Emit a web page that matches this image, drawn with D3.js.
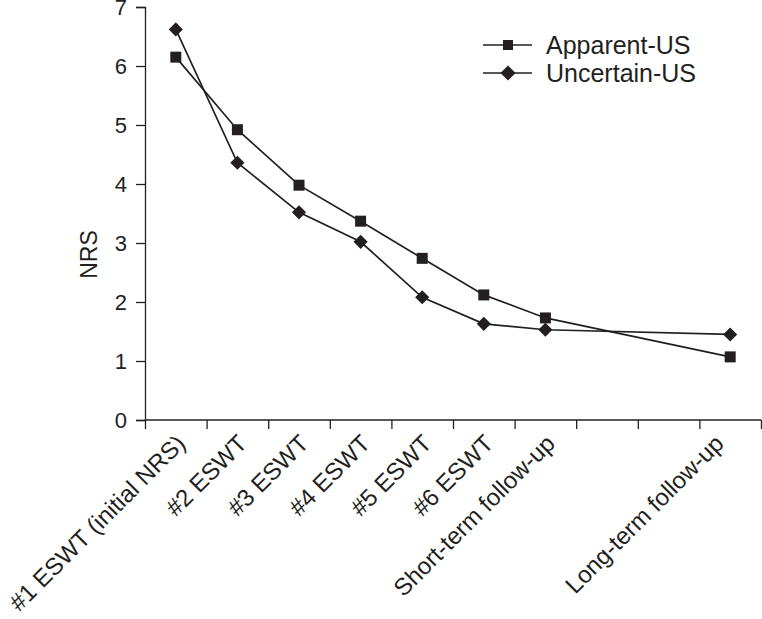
<!DOCTYPE html>
<html>
<head>
<meta charset="utf-8">
<script src="https://cdn.jsdelivr.net/npm/d3@7"></script>
<style>
  html, body { margin: 0; padding: 0; background: #fff; }
  svg { display: block; font-family: "Liberation Sans", Arial, Helvetica, sans-serif; }
</style>
</head>
<body>
<svg id="chart" width="762" height="619"></svg>
<script>
// ---- data ----
const categories = [
  "#1 ESWT (initial NRS)", "#2 ESWT", "#3 ESWT", "#4 ESWT", "#5 ESWT",
  "#6 ESWT", "Short-term follow-up", "", "", "Long-term follow-up"
];
const apparentUS  = [6.15, 4.92, 3.98, 3.37, 2.74, 2.12, 1.73, null, null, 1.07];
const uncertainUS = [6.62, 4.36, 3.52, 3.02, 2.08, 1.63, 1.53, null, null, 1.45];
const seriesNames = ["Apparent-US", "Uncertain-US"];
const yTicks = [0, 1, 2, 3, 4, 5, 6, 7];
const yLabel = "NRS";

// ---- layout ----
const svg = d3.select("#chart");
const mLeft = 145, mRight = 761, mTop = 7, mBottom = 420;
const ink = "#231f20";

const x = d3.scaleBand().domain(d3.range(categories.length)).range([mLeft, mRight]).padding(0);
const xEdge = d3.scaleLinear().domain([0, categories.length]).range([mLeft, mRight]);
const y = d3.scaleLinear().domain([0, 7]).range([mBottom, mTop]);

// y axis
const yAxis = svg.append("g")
  .attr("transform", `translate(${mLeft},0)`)
  .call(d3.axisLeft(y).tickValues(yTicks).tickSize(9).tickPadding(9).tickFormat(d3.format("d")));
yAxis.select(".domain").attr("stroke", ink).attr("stroke-width", 1.3);
yAxis.selectAll(".tick line").attr("stroke", ink).attr("stroke-width", 1.3);
yAxis.selectAll(".tick text").attr("fill", ink).attr("font-size", 22)
  .attr("font-family", "Liberation Sans, Arial, sans-serif");

// x axis (ticks at band boundaries)
const xAxis = svg.append("g")
  .attr("transform", `translate(0,${mBottom})`)
  .call(d3.axisBottom(xEdge).tickValues(d3.range(categories.length + 1)).tickSize(9).tickFormat(""));
xAxis.select(".domain").attr("stroke", ink).attr("stroke-width", 1.3)
  .attr("d", `M${mLeft},0H${mRight}`);
xAxis.selectAll(".tick line").attr("stroke", ink).attr("stroke-width", 1.3);

// x labels rotated
const lastIdx = categories.length - 1;
svg.append("g").selectAll("text")
  .data(categories.map((c, i) => ({ c, i })).filter(d => d.c !== ""))
  .join("text")
  .attr("transform", d => `translate(${x(d.i) + x.bandwidth() / 2 + (d.i === lastIdx ? -5 : 11)},${mBottom + 25}) rotate(-45)`)
  .attr("text-anchor", "end")
  .attr("font-size", 24)
  .attr("fill", ink)
  .text(d => d.c);

// y label
svg.append("text")
  .attr("transform", `translate(97,${(mTop + mBottom) / 2 + 41}) rotate(-90)`)
  .attr("text-anchor", "middle")
  .attr("font-size", 23)
  .attr("fill", ink)
  .text(yLabel);

// lines
const cx = i => x(i) + x.bandwidth() / 2;
const line = d3.line().x(d => cx(d.i)).y(d => y(d.v));
const toPts = arr => arr.map((v, i) => ({ v, i })).filter(d => d.v !== null);

const seriesData = [apparentUS, uncertainUS];
const symbolRot = [0, 45];
const symSizes = [121, 100];

seriesData.forEach((arr, k) => {
  const pts = toPts(arr);
  svg.append("path").datum(pts)
    .attr("d", line).attr("fill", "none").attr("stroke", ink).attr("stroke-width", 1.7);
  svg.append("g").selectAll("path")
    .data(pts).join("path")
    .attr("transform", d => `translate(${cx(d.i)},${y(d.v)}) rotate(${symbolRot[k]})`)
    .attr("d", d3.symbol().type(d3.symbolSquare).size(symSizes[k]))
    .attr("fill", ink);
});

// legend
const legend = svg.append("g").attr("transform", "translate(483,45)");
seriesNames.forEach((name, k) => {
  const g = legend.append("g").attr("transform", `translate(0,${k * 28})`);
  g.append("line").attr("x1", 0).attr("x2", 49).attr("y1", 0).attr("y2", 0)
    .attr("stroke", ink).attr("stroke-width", 1.7);
  g.append("path").attr("transform", `translate(25,0) rotate(${symbolRot[k]})`)
    .attr("d", d3.symbol().type(d3.symbolSquare).size(k === 0 ? 100 : 112)).attr("fill", ink);
  g.append("text").attr("x", 63).attr("y", 9).attr("font-size", 25).attr("fill", ink).text(name);
});
</script>
</body>
</html>
